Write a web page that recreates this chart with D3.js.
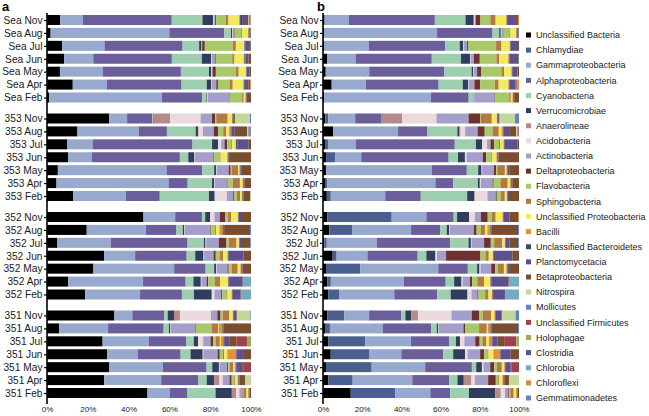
<!DOCTYPE html>
<html>
<head>
<meta charset="utf-8">
<script src="https://cdn.jsdelivr.net/npm/d3@7"></script>
<style>
  body { margin: 0; background: #fff; }
  text { font-family: "Liberation Sans", Arial, sans-serif; }
</style>
</head>
<body>
<div id="chart"></div>
<script>
var svgWidth = 649;
var svgHeight = 416;

// taxa in stacking / legend order
var taxa = ["Unclassified Bacteria", "Chlamydiae", "Gammaproteobacteria", "Alphaproteobacteria",
  "Cyanobacteria", "Verrucomicrobiae", "Anaerolineae", "Acidobacteria", "Actinobacteria",
  "Deltaproteobacteria", "Flavobacteria", "Sphingobacteria", "Unclassified Proteobacteria",
  "Bacilli", "Unclassified Bacteroidetes", "Planctomycetacia", "Betaproteobacteria", "Nitrospira",
  "Mollicutes", "Unclassified Firmicutes", "Holophagae", "Clostridia", "Chlorobia", "Chloroflexi",
  "Gemmatimonadetes"];

var taxonColors = ["#000000", "#4b5f8e", "#97a9cd", "#6b5e9b", "#9dcfae", "#2f3e5e", "#b78a8a",
  "#eadadd", "#a39fca", "#6d3131", "#a9c86a", "#b07a42", "#f2ea5e", "#e39232", "#3d4c5b",
  "#5e4f8e", "#7b4d2f", "#c3d79c", "#6482c2", "#9b4150", "#9aaa62", "#5d4d9d", "#79a9c2",
  "#d28a42", "#6383d2"];

var sites = ["Sea", "353", "352", "351"];
var months = ["Nov", "Aug", "Jul", "Jun", "May", "Apr", "Feb"];
var pctTicks = [0, 20, 40, 60, 80, 100];

// panel a, rows: Sea Nov..Feb, 353, 352, 351 (percent, one value per taxon)
var panelA = [
  [6.7,0,11.4,44.9,15.5,5.4,0,0.5,0.5,0.5,4.9,1.3,5.4,0.5,1,2,1,0.3,0.3,0.3,0,0.3,0,0.3,0],
  [1.8,0,59.3,27.5,3.3,0.7,0,0.3,0.8,0.3,3,0.5,3,0.2,0.3,0.6,0.3,0,0,0,0,0,0,0,0],
  [7.5,0,21,38.7,8.2,1.1,0,0,0.4,1.3,13.9,1.5,4.1,0.2,0.3,2.6,0.3,0,0,0,0,0,0,0,0],
  [8.5,0,14.5,39,14.9,4.6,0,0.3,1.6,0.4,8.2,1.1,4.6,0.3,0.5,1.5,1.3,0,0,0,0,0,0,0,0],
  [6.4,0,21.2,38.7,13.9,1,0,0.3,0.5,1.6,10,1.3,3.6,0.2,0.3,1.3,0.7,0,0,0,0,0,0,0,0],
  [12.7,0,16.8,36.8,12.4,2.3,0,0.3,2.1,0.8,5.7,1.6,5.2,0.2,0.5,1.8,0.8,0,0,0.2,0,0,0,0.3,0],
  [1.1,0,55.9,20,2.1,0.3,0,0.3,10.6,0.3,6.2,0.8,0.8,0.3,0.2,0.3,2,0,0,0,0,0,0,0,0],

  [30.9,0,9,12.6,0.3,0.3,8.2,15.2,5.7,1.6,0.5,5.7,2.1,0.3,0.3,0.5,0.5,7.4,0.5,0,0,0,0,0,0],
  [14.7,0,29.6,13.6,13.9,1.1,0.3,2.1,5.2,2.1,2.5,1.5,1.3,0.8,0.4,1.6,6,0.5,0.5,0.3,0.3,0.2,0,0,0],
  [10,0,12.4,49,9.6,2.9,0,1.6,1.6,1.3,2,0.5,1.6,0.3,0.5,5.7,1.1,0,0,0,0,0,0,0,0],
  [10.5,0,12,44,4.2,3.1,0,0.3,9.2,0.4,2.8,0.4,3.3,0.3,0.3,0.3,11,0,0,0,0,0,0,0,0],
  [5.4,0,54,17.8,5.9,1,0,0.3,5.9,1,0.4,3.3,0.6,0.3,0.3,0.3,4.9,0,0,0,0,0,0,0,0],
  [4.7,0,55.6,9.5,12.1,1,0,0.3,6,0.4,2.5,3.6,1.3,0.3,0.3,0.3,3.3,0,0,0,0,0,0,0,0],
  [12.7,0,25.8,16.5,24,2.8,0,5.9,3.1,0.5,1.3,1.6,0.8,0.3,0.3,0.3,3.3,0.3,0,0,0,0,0,0,0],

  [47.2,0,15.5,13.1,1.6,2.5,0,2,2.6,2.8,1.1,1.6,3.3,0.3,0.3,1,4.9,0,0,0,0,0,0,0,0],
  [19.4,0,28.9,14.9,3.1,0.8,0,0.3,12.4,0.3,2,0.5,1.6,1.5,0.3,0.5,12.6,0,0,0,0,0,0,0,0.5],
  [5.1,0,26.1,37.7,8,0.8,0,0.3,6.2,3.8,1.1,3.8,1.1,0.3,0.3,0.5,4.6,0,0,0,0,0,0,0,0.3],
  [28.1,0,15.2,25.3,4.2,4.1,0,0.3,4.6,1.1,2.1,1.6,2,0.3,0.3,7.4,3.6,0,0,0,0,0,0,0,0],
  [22.7,0,39.5,15.4,4.2,1,0,0.3,5.2,0.6,1.6,2.8,1.3,0.3,0.3,0.5,4.1,0,0,0,0,0,0,0,0],
  [10.3,0,36.6,20.8,3.8,3.6,0,0.3,2.5,0.8,3.3,2.5,3.8,0.3,0.3,6.5,0.3,0,0,0,0,0,3.9,0,0],
  [18.8,0,27,20.6,5.9,8.8,0,1.3,3.3,0.5,2.1,0.5,2,0.3,0.3,3.8,0.3,0,0,0,0,0,4.9,0,0],

  [33,0,8.8,15.7,1.6,3.1,2.9,15.2,3.1,1.6,1,3.3,1.6,0.3,0.3,1.3,0.3,6.5,0.3,0,0,0,0,0,0],
  [6,0,24,27.3,2.6,0.7,0,0.3,11.9,0.3,7.7,3.3,0.3,1.6,0.3,0.3,13.6,0,0,0,0,0,0,0,0],
  [27.3,0,22.7,18.5,3.6,2.1,0,2.5,3.6,1.3,1.3,2,0.5,1.3,0.3,2.8,3.3,0,0,5.1,2,0,0,0,0],
  [29.7,0,15,21.2,4.9,6,0,0.3,7,1.1,1.6,0.5,1.6,4.2,0.3,3.3,3.9,0,0,0,0,0,0,0,0],
  [30.9,0,26.5,21.7,2.8,3.3,0,0.3,3.8,0.5,0.8,1.6,0.8,0.5,0.3,2.9,0.5,0,0,3.9,0,0,0,0,0],
  [28.1,0,28.1,18.3,4.1,3.8,2.5,1.6,3.3,1.1,1.3,0.5,1.1,0.3,0.3,0.3,2.8,2.9,0,0,0,0,0,0,0],
  [49.3,0,10.9,8.5,14,8,2.1,1.6,1.3,0.3,0.3,1.6,0.8,0.3,0.3,0.3,0.5,0,0,0,0,0,0,0,0]
];

// panel b, same row order
var panelB = [
  [0.8,0,12.4,43.7,15.6,4.2,0,0.5,0.5,2.4,5,2.7,5.4,0.3,0.5,3.7,1,0,0,0.5,0,0,0,0.5,0],
  [0.5,0,57.7,28.3,3.4,0.8,0,0.3,0.8,0.3,3,0.5,2.9,0.3,0.3,0.6,0.3,0,0,0,0,0,0,0,0],
  [0.5,0,23,39,7.4,1.7,0,0.3,1.7,0.5,14.4,2.7,4.2,0.3,0.3,3.7,0.5,0,0,0,0,0,0,0,0],
  [2.2,0,14.4,38.9,14.9,4.6,0,0.3,1.7,3,8.5,1.4,4.6,0.3,0.3,3.4,1,0,0.5,0,0,0,0,0,0],
  [1.4,0,22.2,38.4,13.9,0.8,0,0.3,1.7,2.2,10.2,1.4,3.7,0.3,0.3,2.5,0.8,0,0,0,0,0,0,0,0],
  [4.4,0,17.3,36.9,12.2,2.7,0,0.3,2.9,3,7.4,1.9,4.9,0.3,0.3,3,0.5,0,0,0.5,0,0,0,0.8,0],
  [0.5,0,55,19.5,2.2,0.3,0,0.3,10.5,0.3,7.3,0.8,0.8,0.3,0.3,0.3,2.5,0,0,0,0,0,0,0,0],

  [1.2,1.5,13.5,13,0.3,0.5,9.8,17.3,16.2,5.8,0.3,5.6,2.5,0.3,0.3,0.5,0.3,7.8,2,0,0,0,0,0,0],
  [4.9,0,30.8,14,14.2,1,0.5,2.2,5.9,3.4,3.7,3,1.3,0.8,0.3,2.5,3.4,0.5,0.5,0.3,0,0,0,0,0],
  [1,1.7,13.5,49,10.5,3,0,2.5,1.7,1.7,2.5,0.5,1.7,0.3,0.3,6.3,0.8,0,0,0,0,0,0,0,0],
  [1.5,4.6,12.7,43,4.6,3.4,0,0.8,8,1.7,2.5,0.5,2,0.3,0.3,0.5,10,0,0,0,0,0,0,0,0],
  [1.5,0,54,17.8,5.8,1.7,0,0.3,6,1.2,0.5,3.9,0.8,0.3,0.3,0.8,5,0,0,0,0,0,0,0,0],
  [1,1.2,54.6,9,12.5,1,0,0.5,6,0.5,3.4,3.7,1.2,0.3,0.3,0.5,3.4,0,0,0,0,0,0,0,0],
  [1.9,2,27.2,17.8,23.2,3.7,0,6.4,4.2,0.5,2,2,1,0.3,0.3,0.5,5,0,0,0,0,0,0,0,0],

  [2.2,32.3,17.4,13.7,1.7,6.1,0,2.9,3,3.4,2,2,3.4,0.3,0.3,3,4.2,0,0,0,0,0,0,0.5,0],
  [3.2,11.7,29.6,14.6,3.4,1.2,0,0.3,12.2,1.4,2.2,2,1.2,1.4,0.3,0.3,13.5,0,0,0,0,0,0,0,0.5],
  [0.7,1.2,25.4,37.2,9.3,1.2,0,0.3,6.4,3.4,1.7,4.2,1.2,0.3,0.3,1.7,4.4,0,0.5,0,0,0,0,0,0],
  [4.9,2,15.6,25.4,4.4,4.6,0,0.8,4.6,17.4,2.5,1.7,2,0.3,0.3,9.3,3.4,0,0,0,0,0,0,0,0],
  [1.5,17.3,39.3,14.9,4.7,1.2,0,0.5,5.4,2,1.4,3,1.2,0.3,0.3,0.8,5,0,0,0,0,0,0,0,0],
  [2.2,1.7,36.4,20.8,4.2,3.7,0,0.5,3.6,1.2,2.5,3.4,3,0.3,0.3,8.5,0.3,0,0,0,0,0,5,0,0],
  [2.7,5.4,27.9,21.7,6.8,8.5,0,2,3,0.5,3.4,1.7,1.7,0.3,0.3,6,0.3,0,0,0,0,0,6.8,0,0],

  [2.2,8.6,12.5,16.1,2.2,2.9,3.6,16.8,10.2,3.9,1.7,4.2,1.7,0.3,0.3,3,0.3,6.8,1.7,0,0,0,0,0,0],
  [1,2.5,26.7,24.5,2.9,0.8,0,0.3,12.4,0.8,7.1,3.9,0.5,1.2,0.3,0.3,13.5,0,0,0,0,0,0,0,0.5],
  [2.7,18.3,22.8,19,3.4,2,0,2.2,5.4,2.2,1.4,2,1.2,1.4,0.3,2.5,3.4,0,0,6,1.4,0,0,0,0],
  [3.9,19.6,16,21.2,5,6,0,1.2,6.4,2,1.7,0.5,2.5,3.4,0.3,5,4.2,0,0,0,0,0,0,0,0],
  [1.5,23.2,27.1,23.7,2.2,2.9,0,0.8,3.4,2,1.4,2.5,1.2,0.3,0.3,2.7,0.5,0,0,3.7,0,0,0,0,0],
  [2.7,12.4,30.3,18.8,4.2,3.2,3.9,1.7,6.8,3.9,1.2,0.5,1.7,0.3,0.3,0.3,2.5,5,0,0,0,0,0,0,0],
  [13.7,22,17.3,9.8,9.3,13,2.7,2,1.7,0.5,0.5,1.7,1.2,0.3,0.3,0.3,0.5,0,0,0,0,0,0,0,0]
];

var svg = d3.select("#chart")
    .append("svg")
    .attr("width", svgWidth)
    .attr("height", svgHeight);

// row labels like "Sea Nov"
var rowKeys = [];
sites.forEach(function(s) {
    months.forEach(function(m) { rowKeys.push(s + " " + m); });
});

var ySite = d3.scalePoint().domain(sites).range([20, 315.5]);
var yMonth = d3.scalePoint().domain(months).range([0, 77.5]);
var y = d3.scaleOrdinal()
    .domain(rowKeys)
    .range(rowKeys.map(function(k) {
        var p = k.split(" ");
        return ySite(p[0]) + yMonth(p[1]);
    }));

var barH = 10;

function drawPanel(data, x0, x1, letter, lx) {
    var x = d3.scaleLinear().domain([0, 100]).range([x0, x1]);
    var g = svg.append("g");

    var rows = g.selectAll(".row")
        .data(data)
        .enter()
        .append("g")
        .attr("class", "row")
        .attr("transform", function(d, i) { return "translate(0," + (y(rowKeys[i]) - barH / 2) + ")"; });

    rows.selectAll("rect")
        .data(function(row) {
            var total = d3.sum(row);
            var cum = d3.cumsum(row);
            return row.map(function(v, j) {
                return { j: j, start: (cum[j] - v) / total * 100, end: cum[j] / total * 100 };
            }).filter(function(s) { return s.end > s.start; });
        })
        .enter()
        .append("rect")
        .attr("x", function(s) { return x(s.start); })
        .attr("width", function(s) { return x(s.end) - x(s.start); })
        .attr("y", 0)
        .attr("height", barH)
        .attr("fill", function(s) { return taxonColors[s.j]; });

    // left axis with row labels
    var leftAxis = d3.axisLeft(y).tickSize(3).tickSizeOuter(0).tickPadding(1.5);
    var ax = g.append("g")
        .attr("transform", "translate(" + x0 + ",0)")
        .call(leftAxis);
    ax.select(".domain").remove();
    ax.selectAll("line").attr("stroke", "#000").attr("stroke-width", 1.2);
    ax.selectAll("text").attr("font-size", 10.2).attr("fill", "#1a1a1a");
    g.append("line")
        .attr("x1", x0).attr("x2", x0)
        .attr("y1", 13).attr("y2", 404)
        .attr("stroke", "#000").attr("stroke-width", 1.6);

    // bottom percent labels
    var bottomAxis = d3.axisBottom(x).tickValues(pctTicks)
        .tickFormat(function(d) { return d + "%"; })
        .tickSize(0).tickPadding(4);
    var bx = g.append("g")
        .attr("transform", "translate(0,402)")
        .call(bottomAxis);
    bx.select(".domain").remove();
    bx.selectAll("text").attr("font-size", 8).attr("fill", "#1a1a1a");

    svg.append("text")
        .attr("x", lx).attr("y", 11)
        .attr("font-size", 13).attr("font-weight", "bold")
        .text(letter);
}

drawPanel(panelA, 47, 251, "a", 2);
drawPanel(panelB, 323, 519, "b", 317);

// legend
var yLeg = d3.scalePoint().domain(taxa).range([35, 398]);
var leg = svg.append("g").selectAll("g")
    .data(taxa)
    .enter()
    .append("g")
    .attr("transform", function(d) { return "translate(526," + yLeg(d) + ")"; });

leg.append("rect")
    .attr("x", 0).attr("y", -2.5)
    .attr("width", 5).attr("height", 5)
    .attr("fill", function(d, i) { return taxonColors[i]; });

leg.append("text")
    .attr("x", 10).attr("dy", "0.35em")
    .attr("font-size", 9)
    .attr("fill", "#1a1a1a")
    .text(function(d) { return d; });
</script>
</body>
</html>
